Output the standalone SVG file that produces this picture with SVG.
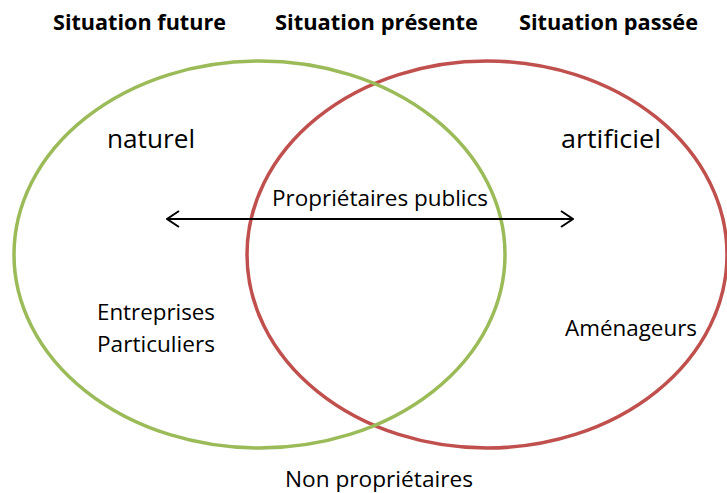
<svg xmlns="http://www.w3.org/2000/svg" width="727" height="493" viewBox="0 0 727 493">
<style>
.t{font-family:"Open Sans","Liberation Sans",sans-serif;fill:#000;}
.h{font-size:21px;font-weight:bold;}
.n{font-size:22px;}
.l{font-size:25px;}
.e{fill:none;stroke-width:3.5;}
</style>
<defs>
<marker id="ah" viewBox="0 0 14 18" refX="13" refY="9" markerWidth="14" markerHeight="18" markerUnits="userSpaceOnUse" orient="auto-start-reverse">
<path d="M1,1 L13,9 L1,17" fill="none" stroke="#000" stroke-width="2"/>
</marker>
</defs>
<rect width="727" height="493" fill="#fff"/>
<g id="titles">
<text class="t h" x="53" y="30" textLength="173" lengthAdjust="spacingAndGlyphs">Situation future</text>
<text class="t h" x="275" y="30" textLength="203" lengthAdjust="spacingAndGlyphs">Situation présente</text>
<text class="t h" x="519" y="30" textLength="179" lengthAdjust="spacingAndGlyphs">Situation passée</text>
</g>
<g id="passe">
<ellipse class="e" cx="487" cy="254.5" rx="240" ry="193.5" stroke="#C0504D"/>
</g>
<g id="futur">
<ellipse class="e" cx="259.5" cy="254.5" rx="245.5" ry="193.5" stroke="#9BBB59"/>
</g>
<g id="connectors">
<line x1="167" y1="219" x2="573" y2="219" stroke="#000" stroke-width="2" marker-start="url(#ah)" marker-end="url(#ah)"/>
</g>
<g id="labels">
<text class="t l" x="107" y="148" textLength="88" lengthAdjust="spacingAndGlyphs">naturel</text>
<text class="t l" x="561" y="148" textLength="100" lengthAdjust="spacingAndGlyphs">artificiel</text>
<text class="t n" x="272" y="206" textLength="216" lengthAdjust="spacingAndGlyphs">Propriétaires publics</text>
<text class="t n" x="97" y="320" textLength="118" lengthAdjust="spacingAndGlyphs">Entreprises</text>
<text class="t n" x="97" y="352" textLength="118" lengthAdjust="spacingAndGlyphs">Particuliers</text>
<text class="t n" x="565" y="336" textLength="132" lengthAdjust="spacingAndGlyphs">Aménageurs</text>
<text class="t n" x="285" y="487" textLength="188" lengthAdjust="spacingAndGlyphs">Non propriétaires</text>
</g>
</svg>
